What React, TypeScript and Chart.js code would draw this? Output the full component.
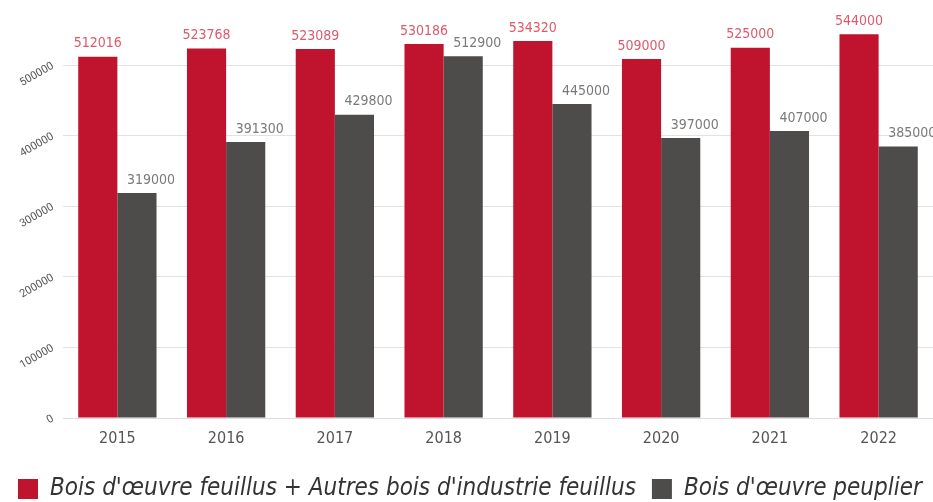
import React, { useEffect, useRef } from "react";
import { Chart, registerables } from "chart.js";

Chart.register(...registerables);

const years = ["2015", "2016", "2017", "2018", "2019", "2020", "2021", "2022"];
const feuillus = [512016, 523768, 523089, 530186, 534320, 509000, 525000, 544000];
const peuplier = [319000, 391300, 429800, 512900, 445000, 397000, 407000, 385000];
const yTicks = [0, 100000, 200000, 300000, 400000, 500000];
const seriesNames = [
  "Bois d'œuvre feuillus + Autres bois d'industrie feuillus",
  "Bois d'œuvre peuplier",
];

const RED = "#c0142e";
const GREY = "#4e4b4b";
const NARROW = "'DejaVu Sans Condensed', Roboto, sans-serif";

const valueLabels = {
  id: "valueLabels",
  beforeUpdate(chart: any) {
    const lg = chart.legend;
    if (lg && !lg.__wide) {
      const origFit = lg._fitRows;
      lg._fitRows = function (...args: any[]) {
        const mw = this.maxWidth;
        this.maxWidth = mw + 40;
        const r = origFit.apply(this, args);
        this.maxWidth = mw;
        return r;
      };
      const origDraw = lg._draw;
      lg._draw = function (...args: any[]) {
        const rt = this.right;
        this.right = rt + 40;
        const r = origDraw.apply(this, args);
        this.right = rt;
        return r;
      };
      lg.__wide = true;
    }
  },
  afterDatasetsDraw(chart: any) {
    const ctx = chart.ctx;
    ctx.save();
    ctx.font = `14px ${NARROW}`;
    ctx.textAlign = "center";
    ctx.textBaseline = "middle";
    chart.data.datasets.forEach((ds: any, di: number) => {
      const meta = chart.getDatasetMeta(di);
      meta.data.forEach((bar: any, i: number) => {
        const v = ds.data[i];
        ctx.fillStyle = di === 0 ? "#dc5a6c" : "#7a7a7a";
        const dx = di === 0 ? 0 : 14;
        ctx.fillText(String(v), bar.x + dx, bar.y - 13);
      });
    });
    ctx.restore();
  },
};

export default function App() {
  const ref = useRef<HTMLCanvasElement>(null);
  useEffect(() => {
    document.body.style.margin = "0";
    const chart = new Chart(ref.current!, {
      type: "bar",
      data: {
        labels: years,
        datasets: [
          { label: seriesNames[0], data: feuillus, backgroundColor: RED },
          { label: seriesNames[1], data: peuplier, backgroundColor: GREY },
        ],
      },
      options: {
        animation: false,
        responsive: false,
        layout: { padding: { top: 30, left: 2, right: 0, bottom: -9 } },
        datasets: { bar: { categoryPercentage: 0.72, barPercentage: 1 } },
        plugins: {
          tooltip: { enabled: false },
          legend: {
            position: "bottom",
            align: "start",
            labels: {
              boxWidth: 20,
              boxHeight: 20,
              padding: 16,
              color: "#333",
              font: { family: NARROW, size: 24, style: "italic", lineHeight: 1 },
            },
          },
        },
        scales: {
          x: {
            grid: { display: false, drawTicks: false },
            border: { color: "#dcdcdc" },
            ticks: { color: "#555", font: { family: NARROW, size: 16 }, padding: 11 },
            afterFit(scale: any) {
              scale.height = 43;
            },
          },
          y: {
            min: 0,
            max: 550000,
            grid: { color: "#e2e2e2", drawTicks: false },
            border: { display: false },
            ticks: {
              autoSkip: false,
              minRotation: 30,
              maxRotation: 30,
              padding: 10,
              color: "#555",
              font: { family: "Roboto", size: 11 },
              callback: (v: any) => String(v),
            },
            afterBuildTicks(scale: any) {
              scale.ticks = yTicks.map((v) => ({ value: v }));
            },
            afterFit(scale: any) {
              scale.width = 61;
            },
          },
        },
      },
      plugins: [valueLabels],
    });
    return () => chart.destroy();
  }, []);
  return (
    <div style={{ width: 933, height: 502 }}>
      <canvas ref={ref} width={933} height={502} />
    </div>
  );
}
